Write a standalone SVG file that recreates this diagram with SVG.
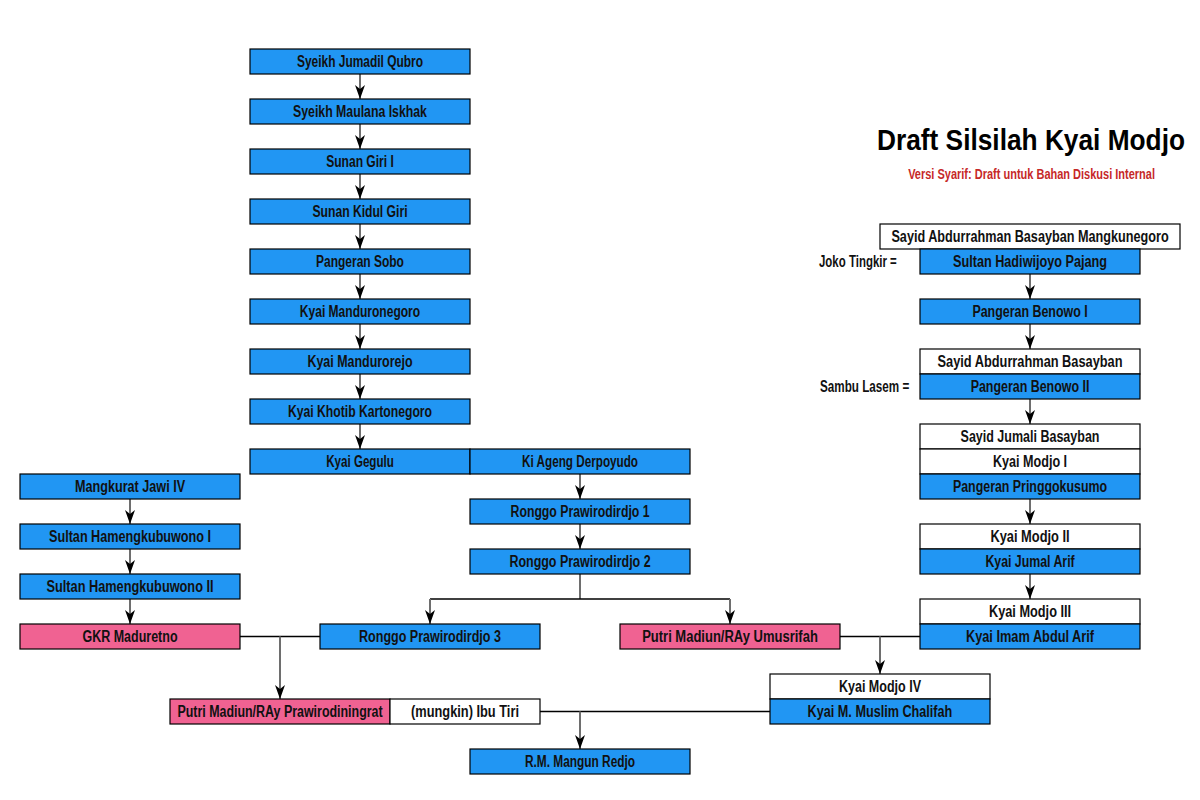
<svg xmlns="http://www.w3.org/2000/svg" width="1200" height="800" viewBox="0 0 1200 800">
<style>
.b{fill:#2196f3;stroke:#000;stroke-width:1.2}
.p{fill:#f06292;stroke:#000;stroke-width:1.2}
.w{fill:#fff;stroke:#000;stroke-width:1.2}
text{font-family:"Liberation Sans",Arial,sans-serif;font-size:17px;font-weight:bold;fill:#111;text-anchor:middle}
.t{transform:scale(0.72,1)}
.lbl{text-anchor:start;font-size:16px}
.title{font-size:30px;fill:#000;text-anchor:end;transform:scale(0.875,1)}
.sub{font-size:14px;fill:#c62828;text-anchor:end;transform:scale(0.68,1)}
.arr{fill:none;stroke:#6e6e6e;stroke-width:2;marker-end:url(#ah)}
.ln{fill:none;stroke:#000;stroke-width:1.3}
.gl{fill:none;stroke:#6e6e6e;stroke-width:2}
</style>
<defs>
<marker id="ah" viewBox="0 0 14 10" refX="14" refY="5" markerWidth="14" markerHeight="10" markerUnits="userSpaceOnUse" orient="auto">
<path d="M0,0 L14,5 L0,10 L4,5 z" fill="#000"/>
</marker>
</defs>
<rect width="1200" height="800" fill="#fff"/>
<g id="title">
<text class="title" x="1354.3" y="150" textLength="352" lengthAdjust="spacingAndGlyphs">Draft Silsilah Kyai Modjo</text>
<text class="sub" x="1698.5" y="179" textLength="363" lengthAdjust="spacingAndGlyphs">Versi Syarif: Draft untuk Bahan Diskusi Internal</text>
</g>
<g id="connectors">
<path class="arr" d="M360,74 V99"/>
<path class="arr" d="M360,124 V149"/>
<path class="arr" d="M360,174 V199"/>
<path class="arr" d="M360,224 V249"/>
<path class="arr" d="M360,274 V299"/>
<path class="arr" d="M360,324 V349"/>
<path class="arr" d="M360,374 V399"/>
<path class="arr" d="M360,424 V449"/>
<path class="arr" d="M580,474 V499"/>
<path class="arr" d="M580,524 V549"/>
<path class="gl" d="M580,574 V599"/>
<path class="ln" d="M430,599 H730"/>
<path class="arr" d="M430,599 V624"/>
<path class="arr" d="M730,599 V624"/>
<path class="arr" d="M130,499 V524"/>
<path class="arr" d="M130,549 V574"/>
<path class="arr" d="M130,599 V624"/>
<path class="ln" d="M240,636.5 H320"/>
<path class="arr" d="M280,636.5 V699"/>
<path class="ln" d="M840,636.5 H920"/>
<path class="arr" d="M880,636.5 V674"/>
<path class="ln" d="M540,711.5 H770"/>
<path class="arr" d="M580,711.5 V749"/>
<path class="arr" d="M1030,274 V299"/>
<path class="arr" d="M1030,324 V349"/>
<path class="arr" d="M1030,399 V424"/>
<path class="arr" d="M1030,499 V524"/>
<path class="arr" d="M1030,574 V599"/>
</g>
<g id="n1"><rect class="b" x="250" y="49" width="220" height="25"/><text class="t" x="500" y="67" textLength="175" lengthAdjust="spacingAndGlyphs">Syeikh Jumadil Qubro</text></g>
<g id="n2"><rect class="b" x="250" y="99" width="220" height="25"/><text class="t" x="500" y="117" textLength="186" lengthAdjust="spacingAndGlyphs">Syeikh Maulana Iskhak</text></g>
<g id="n3"><rect class="b" x="250" y="149" width="220" height="25"/><text class="t" x="500" y="167" textLength="94" lengthAdjust="spacingAndGlyphs">Sunan Giri I</text></g>
<g id="n4"><rect class="b" x="250" y="199" width="220" height="25"/><text class="t" x="500" y="217" textLength="132" lengthAdjust="spacingAndGlyphs">Sunan Kidul Giri</text></g>
<g id="n5"><rect class="b" x="250" y="249" width="220" height="25"/><text class="t" x="500" y="267" textLength="122" lengthAdjust="spacingAndGlyphs">Pangeran Sobo</text></g>
<g id="n6"><rect class="b" x="250" y="299" width="220" height="25"/><text class="t" x="500" y="317" textLength="167" lengthAdjust="spacingAndGlyphs">Kyai Manduronegoro</text></g>
<g id="n7"><rect class="b" x="250" y="349" width="220" height="25"/><text class="t" x="500" y="367" textLength="146" lengthAdjust="spacingAndGlyphs">Kyai Mandurorejo</text></g>
<g id="n8"><rect class="b" x="250" y="399" width="220" height="25"/><text class="t" x="500" y="417" textLength="200" lengthAdjust="spacingAndGlyphs">Kyai Khotib Kartonegoro</text></g>
<g id="n9"><rect class="b" x="250" y="449" width="220" height="25"/><text class="t" x="500" y="467" textLength="94" lengthAdjust="spacingAndGlyphs">Kyai Gegulu</text></g>
<g id="n10"><rect class="b" x="470" y="449" width="220" height="25"/><text class="t" x="805.6" y="467" textLength="161" lengthAdjust="spacingAndGlyphs">Ki Ageng Derpoyudo</text></g>
<g id="n11"><rect class="b" x="470" y="499" width="220" height="25"/><text class="t" x="805.6" y="517" textLength="193" lengthAdjust="spacingAndGlyphs">Ronggo Prawirodirdjo 1</text></g>
<g id="n12"><rect class="b" x="470" y="549" width="220" height="25"/><text class="t" x="805.6" y="567" textLength="196" lengthAdjust="spacingAndGlyphs">Ronggo Prawirodirdjo 2</text></g>
<g id="n13"><rect class="b" x="320" y="624" width="220" height="25"/><text class="t" x="597.2" y="642" textLength="197" lengthAdjust="spacingAndGlyphs">Ronggo Prawirodirdjo 3</text></g>
<g id="n14"><rect class="p" x="620" y="624" width="220" height="25"/><text class="t" x="1013.9" y="642" textLength="244" lengthAdjust="spacingAndGlyphs">Putri Madiun/RAy Umusrifah</text></g>
<g id="n15"><rect class="b" x="20" y="474" width="220" height="25"/><text class="t" x="180.6" y="492" textLength="153" lengthAdjust="spacingAndGlyphs">Mangkurat Jawi IV</text></g>
<g id="n16"><rect class="b" x="20" y="524" width="220" height="25"/><text class="t" x="180.6" y="542" textLength="225" lengthAdjust="spacingAndGlyphs">Sultan Hamengkubuwono I</text></g>
<g id="n17"><rect class="b" x="20" y="574" width="220" height="25"/><text class="t" x="180.6" y="592" textLength="232" lengthAdjust="spacingAndGlyphs">Sultan Hamengkubuwono II</text></g>
<g id="n18"><rect class="p" x="20" y="624" width="220" height="25"/><text class="t" x="180.6" y="642" textLength="132" lengthAdjust="spacingAndGlyphs">GKR Maduretno</text></g>
<g id="n19"><rect class="p" x="170" y="699" width="220" height="25"/><text class="t" x="388.9" y="717" textLength="285" lengthAdjust="spacingAndGlyphs">Putri Madiun/RAy Prawirodiningrat</text></g>
<g id="n20"><rect class="w" x="390" y="699" width="150" height="25"/><text class="t" x="645.8" y="717" textLength="150" lengthAdjust="spacingAndGlyphs">(mungkin) Ibu Tiri</text></g>
<g id="n21"><rect class="b" x="470" y="749" width="220" height="25"/><text class="t" x="805.6" y="767" textLength="153" lengthAdjust="spacingAndGlyphs">R.M. Mangun Redjo</text></g>
<g id="n22"><rect class="w" x="770" y="674" width="220" height="25"/><text class="t" x="1222.2" y="692" textLength="114" lengthAdjust="spacingAndGlyphs">Kyai Modjo IV</text><rect class="b" x="770" y="699" width="220" height="25"/><text class="t" x="1222.2" y="717" textLength="201" lengthAdjust="spacingAndGlyphs">Kyai M. Muslim Chalifah</text></g>
<g id="n23"><rect class="w" x="880" y="224" width="300" height="25"/><text class="t" x="1430.6" y="242" textLength="385" lengthAdjust="spacingAndGlyphs">Sayid Abdurrahman Basayban Mangkunegoro</text><rect class="b" x="920" y="249" width="220" height="25"/><text class="t" x="1430.6" y="267" textLength="214" lengthAdjust="spacingAndGlyphs">Sultan Hadiwijoyo Pajang</text><text class="t lbl" x="1137.5" y="267" textLength="108" lengthAdjust="spacingAndGlyphs">Joko Tingkir =</text></g>
<g id="n24"><rect class="b" x="920" y="299" width="220" height="25"/><text class="t" x="1430.6" y="317" textLength="160" lengthAdjust="spacingAndGlyphs">Pangeran Benowo I</text></g>
<g id="n25"><rect class="w" x="920" y="349" width="220" height="25"/><text class="t" x="1430.6" y="367" textLength="257" lengthAdjust="spacingAndGlyphs">Sayid Abdurrahman Basayban</text><rect class="b" x="920" y="374" width="220" height="25"/><text class="t" x="1430.6" y="392" textLength="165" lengthAdjust="spacingAndGlyphs">Pangeran Benowo II</text><text class="t lbl" x="1138.9" y="392" textLength="124" lengthAdjust="spacingAndGlyphs">Sambu Lasem =</text></g>
<g id="n26"><rect class="w" x="920" y="424" width="220" height="25"/><text class="t" x="1430.6" y="442" textLength="193" lengthAdjust="spacingAndGlyphs">Sayid Jumali Basayban</text><rect class="w" x="920" y="449" width="220" height="25"/><text class="t" x="1430.6" y="467" textLength="103" lengthAdjust="spacingAndGlyphs">Kyai Modjo I</text><rect class="b" x="920" y="474" width="220" height="25"/><text class="t" x="1430.6" y="492" textLength="214" lengthAdjust="spacingAndGlyphs">Pangeran Pringgokusumo</text></g>
<g id="n27"><rect class="w" x="920" y="524" width="220" height="25"/><text class="t" x="1430.6" y="542" textLength="110" lengthAdjust="spacingAndGlyphs">Kyai Modjo II</text><rect class="b" x="920" y="549" width="220" height="25"/><text class="t" x="1430.6" y="567" textLength="124" lengthAdjust="spacingAndGlyphs">Kyai Jumal Arif</text></g>
<g id="n28"><rect class="w" x="920" y="599" width="220" height="25"/><text class="t" x="1430.6" y="617" textLength="114" lengthAdjust="spacingAndGlyphs">Kyai Modjo III</text><rect class="b" x="920" y="624" width="220" height="25"/><text class="t" x="1430.6" y="642" textLength="178" lengthAdjust="spacingAndGlyphs">Kyai Imam Abdul Arif</text></g>
</svg>
